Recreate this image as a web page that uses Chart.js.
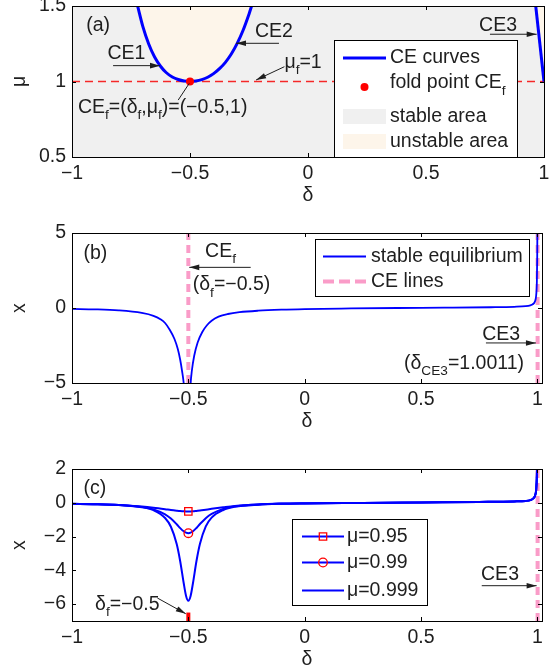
<!DOCTYPE html>
<html>

<head>
  <title>CE curves</title>
  <script src="https://cdn.jsdelivr.net/npm/chart.js"></script>
  <style>
    body { margin: 0; background: #fff; }
    #wrap { position: relative; width: 558px; height: 670px; }
    canvas { position: absolute; left: 0; }
  </style>
</head>

<body>
  <div id="wrap">
    <canvas id="chartA" width="558" height="210" style="top:0px"></canvas>
    <canvas id="chartB" width="558" height="230" style="top:210px"></canvas>
    <canvas id="chartC" width="558" height="230" style="top:440px"></canvas>
  </div>

  <script>
    // ---- data ----
    // (a) CE curves in the (delta, mu) plane
    const ceDelta = [-0.722, -0.70, -0.675, -0.65, -0.625, -0.60, -0.575, -0.55, -0.525, -0.5,
      -0.475, -0.45, -0.425, -0.40, -0.375, -0.35, -0.325, -0.30, -0.275, -0.25, -0.239];
    const ceMu = [1.5, 1.365, 1.248, 1.162, 1.101, 1.058, 1.030, 1.013, 1.003, 1.0,
      1.003, 1.012, 1.028, 1.052, 1.085, 1.127, 1.182, 1.252, 1.339, 1.446, 1.5];
    const ce3Delta = [0.965, 1.0];
    const ce3Mu = [1.5, 1.0];
    const foldDelta = -0.5;
    const foldMu = 1;
    const deltaTicks = [-1, -0.5, 0, 0.5, 1];
    const muTicks = [0.5, 1, 1.5];

    // (b) stable equilibrium at mu = 1
    const eqDelta = [-1, -0.9, -0.8, -0.7, -0.65, -0.62, -0.6, -0.58, -0.56, -0.545, -0.535, -0.527, -0.52, -0.514,
      -0.5, -0.494, -0.49, -0.485, -0.475, -0.46, -0.44, -0.42, -0.4, -0.37, -0.33, -0.28, -0.2, -0.1, 0,
      0.2, 0.4, 0.6, 0.8, 0.9, 0.95, 0.97, 0.98, 0.99, 0.995, 0.998, 0.9995, 1.0005];
    const eqX = [-0.06, -0.09, -0.16, -0.33, -0.52, -0.75, -1.0, -1.45, -2.05, -2.75, -3.45, -4.2, -5.0, -6.3,
      null, -6.3, -5.0, -4.2, -3.2, -2.3, -1.6, -1.15, -0.85, -0.58, -0.4, -0.28, -0.18, -0.11, -0.07,
      -0.03, 0, 0.02, 0.05, 0.08, 0.12, 0.18, 0.25, 0.45, 0.85, 1.8, 3.5, 6];
    const ceLineDeltas = [-0.5, 1.0011];
    const xTicksB = [-5, 0, 5];

    // (c) equilibria for three mu values
    const cDelta = [-1, -0.9, -0.8, -0.7, -0.65, -0.6, -0.575, -0.55, -0.535, -0.52,
      -0.51, -0.5, -0.49, -0.48, -0.465, -0.45, -0.425, -0.4, -0.35, -0.3,
      -0.2, -0.1, 0, 0.25, 0.5, 0.75, 0.9, 0.95, 0.97, 0.98,
      0.99, 0.995, 0.998, 1.0];
    const x095 = [-0.07, -0.09, -0.13, -0.22, -0.29, -0.38, -0.43, -0.47, -0.49, -0.5,
      -0.51, -0.51, -0.51, -0.5, -0.48, -0.46, -0.41, -0.36, -0.27, -0.19,
      -0.1, -0.06, -0.04, -0.01, 0.02, 0.05, 0.08, 0.11, 0.16, 0.23,
      0.42, 0.78, 1.6, 3.0];
    const x099 = [-0.06, -0.08, -0.13, -0.25, -0.39, -0.68, -0.93, -1.27, -1.5, -1.69,
      -1.77, -1.8, -1.77, -1.69, -1.49, -1.26, -0.91, -0.66, -0.36, -0.21,
      -0.1, -0.05, -0.03, -0.01, 0.02, 0.05, 0.08, 0.11, 0.16, 0.23,
      0.42, 0.78, 1.6, 3.0];
    const x0999 = [-0.06, -0.08, -0.13, -0.26, -0.44, -0.9, -1.42, -2.44, -3.46, -4.75,
      -5.5, -5.8, -5.5, -4.75, -3.45, -2.43, -1.4, -0.88, -0.43, -0.24,
      -0.11, -0.06, -0.04, -0.01, 0.02, 0.05, 0.08, 0.11, 0.16, 0.23,
      0.42, 0.78, 1.6, 3.0];
    const foldBar = [-7, -6.5];
    const xTicksC = [-6, -4, -2, 0, 2];

    // ---- styling ----
    const FONT = '"Liberation Sans", Arial, Helvetica, sans-serif';
    const FS = 19.5;
    const INK = '#1e1e1e';
    const BLUE = '#0000ff';
    const RED = '#ff0000';
    const PINK = '#fa9cc8';
    const STABLE = '#f0f0f0';
    const UNSTABLE = '#fdf5ea';
    const TL = 4;

    Chart.defaults.font.family = FONT;
    Chart.defaults.font.size = FS;
    Chart.defaults.color = INK;

    const pts = (xs, ys) => xs.map((v, i) => ({ x: v, y: ys[i] }));
    const fmt = v => String(v).replace('-', '\u2212');

    function drawRich(ctx, str, x, y) {
      const parts = str.split(/(_\{[^}]*\})/).filter(Boolean);
      let cx = x;
      ctx.textAlign = 'left';
      ctx.textBaseline = 'middle';
      ctx.fillStyle = INK;
      for (const p of parts) {
        const sub = p.startsWith('_{');
        const s = sub ? p.slice(2, -1) : p;
        ctx.font = (sub ? FS * 0.7 : FS) + 'px ' + FONT;
        ctx.fillText(s, cx, sub ? y + FS * 0.4 : y);
        cx += ctx.measureText(s).width;
      }
    }

    function arrow(ctx, x1, y1, x2, y2, head) {
      ctx.strokeStyle = INK;
      ctx.fillStyle = INK;
      ctx.lineWidth = 1;
      ctx.beginPath();
      ctx.moveTo(x1, y1);
      ctx.lineTo(x2, y2);
      ctx.stroke();
      if (!head) return;
      const ang = Math.atan2(y2 - y1, x2 - x1), L = 10, W = 2.8;
      const c = Math.cos(ang), s = Math.sin(ang);
      ctx.beginPath();
      ctx.moveTo(x2, y2);
      ctx.lineTo(x2 - L * c + W * s, y2 - L * s - W * c);
      ctx.lineTo(x2 - L * c - W * s, y2 - L * s + W * c);
      ctx.closePath();
      ctx.fill();
    }

    function marker(ctx, style, x, y) {
      ctx.strokeStyle = RED;
      ctx.lineWidth = 1.3;
      ctx.beginPath();
      if (style === 'rect') ctx.rect(x - 3.7, y - 3.7, 7.4, 7.4);
      else ctx.arc(x, y, 4.3, 0, Math.PI * 2);
      ctx.stroke();
    }

    function drawLegend(ctx, L) {
      const [l, t, r, b] = L.box;
      const [s1, s2] = L.sample;
      ctx.fillStyle = '#fff';
      ctx.fillRect(l, t, r - l, b - t);
      ctx.strokeStyle = '#000';
      ctx.lineWidth = 1;
      ctx.strokeRect(l + 0.5, t + 0.5, r - l, b - t);
      for (const it of L.items) {
        const cy = it.y;
        if (it.kind === 'line') {
          ctx.save();
          ctx.setLineDash(it.dash || []);
          ctx.strokeStyle = it.color;
          ctx.lineWidth = it.width;
          ctx.beginPath();
          ctx.moveTo(s1, cy);
          ctx.lineTo(s2, cy);
          ctx.stroke();
          ctx.restore();
          if (it.marker) marker(ctx, it.marker, (s1 + s2) / 2, cy);
        } else if (it.kind === 'dot') {
          ctx.fillStyle = it.color;
          ctx.beginPath();
          ctx.arc((s1 + s2) / 2, cy + 4, 4, 0, Math.PI * 2);
          ctx.fill();
        } else if (it.kind === 'patch') {
          ctx.fillStyle = it.color;
          ctx.fillRect(s1, cy - 8, s2 - s1, 15);
        }
        drawRich(ctx, it.label, L.textX, cy);
      }
    }

    // annotations per panel, positions in data units
    const decor = {
      chartA: {
        bg: STABLE,
        notes: [
          { text: '(a)', at: [-0.94, 1.37] },
          { text: 'CE1', at: [-0.85, 1.182] },
          { text: 'CE2', at: [-0.225, 1.328] },
          { text: 'μ_{f}=1', at: [-0.1, 1.123] },
          { text: 'CE_{f}=(δ_{f},μ_{f})=(\u22120.5,1)', at: [-0.975, 0.825] },
          { text: 'CE3', at: [0.725, 1.37] }
        ],
        arrows: [
          { from: [-0.826, 1.105], to: [-0.627, 1.105], head: true },
          { from: [-0.123, 1.253], to: [-0.305, 1.253], head: true },
          { from: [-0.1, 1.098], to: [-0.22, 1.01], head: true },
          { from: [-0.503, 0.988], to: [-0.55, 0.877], head: false },
          { from: [0.771, 1.313], to: [0.969, 1.313], head: true }
        ],
        legend: {
          box: [334, 40, 517, 157], sample: [343, 386], textX: 390,
          items: [
            { label: 'CE curves', kind: 'line', color: BLUE, width: 3, y: 58 },
            { label: 'fold point CE_{f}', kind: 'dot', color: RED, y: 83 },
            { label: 'stable area', kind: 'patch', color: STABLE, y: 117 },
            { label: 'unstable area', kind: 'patch', color: UNSTABLE, y: 142 }
          ]
        }
      },
      chartB: {
        notes: [
          { text: '(b)', at: [-0.951, 3.65] },
          { text: 'CE_{f}', at: [-0.428, 3.75] },
          { text: '(δ_{f}=\u22120.5)', at: [-0.481, 1.53] },
          { text: 'CE3', at: [0.763, -1.8] },
          { text: '(δ_{CE3}=1.0011)', at: [0.427, -3.69] }
        ],
        arrows: [
          { from: [-0.232, 2.71], to: [-0.496, 2.71], head: true },
          { from: [0.779, -2.33], to: [0.994, -2.33], head: true }
        ],
        legend: {
          box: [315, 29, 529, 86], sample: [323, 366], textX: 371,
          items: [
            { label: 'stable equilibrium', kind: 'line', color: BLUE, width: 1.8, y: 46.5 },
            { label: 'CE lines', kind: 'line', color: PINK, width: 4, dash: [11, 5], y: 71.5 }
          ]
        }
      },
      chartC: {
        notes: [
          { text: '(c)', at: [-0.951, 0.86] },
          { text: 'δ_{f}=\u22120.5', at: [-0.901, -6.04] },
          { text: 'CE3', at: [0.758, -4.23] }
        ],
        arrows: [
          { from: [-0.633, -5.64], to: [-0.511, -6.57], head: true },
          { from: [0.761, -4.91], to: [0.997, -4.91], head: true }
        ],
        legend: {
          box: [292, 79, 427, 165], sample: [302, 344], textX: 347,
          items: [
            { label: 'μ=0.95', kind: 'line', color: BLUE, width: 2, marker: 'rect', y: 96.5 },
            { label: 'μ=0.99', kind: 'line', color: BLUE, width: 2, marker: 'circle', y: 122.5 },
            { label: 'μ=0.999', kind: 'line', color: BLUE, width: 2, y: 150.5 }
          ]
        }
      }
    };

    const figPlugin = {
      id: 'fig',
      beforeDraw(chart) {
        const d = decor[chart.canvas.id];
        if (!d.bg) return;
        const a = chart.chartArea, ctx = chart.ctx;
        ctx.save();
        ctx.fillStyle = d.bg;
        ctx.fillRect(a.left, a.top, a.right - a.left, a.bottom - a.top);
        ctx.restore();
      },
      afterDraw(chart) {
        const d = decor[chart.canvas.id];
        const { ctx, chartArea: a, scales: { x, y } } = chart;
        ctx.save();
        // box and inward ticks
        ctx.strokeStyle = '#000';
        ctx.lineWidth = 1;
        ctx.strokeRect(Math.round(a.left) + 0.5, Math.round(a.top) + 0.5,
          Math.round(a.right - a.left), Math.round(a.bottom - a.top));
        ctx.beginPath();
        for (const t of x.ticks) {
          const px = Math.round(x.getPixelForValue(t.value)) + 0.5;
          ctx.moveTo(px, a.bottom); ctx.lineTo(px, a.bottom - TL);
          ctx.moveTo(px, a.top); ctx.lineTo(px, a.top + TL);
        }
        for (const t of y.ticks) {
          const py = Math.round(y.getPixelForValue(t.value)) + 0.5;
          ctx.moveTo(a.left, py); ctx.lineTo(a.left + TL, py);
          ctx.moveTo(a.right, py); ctx.lineTo(a.right - TL, py);
        }
        ctx.stroke();
        for (const ar of d.arrows) {
          arrow(ctx, x.getPixelForValue(ar.from[0]), y.getPixelForValue(ar.from[1]),
            x.getPixelForValue(ar.to[0]), y.getPixelForValue(ar.to[1]), ar.head);
        }
        for (const n of d.notes) {
          drawRich(ctx, n.text, x.getPixelForValue(n.at[0]), y.getPixelForValue(n.at[1]));
        }
        drawLegend(ctx, d.legend);
        ctx.restore();
      }
    };

    function axes(o) {
      return {
        x: {
          type: 'linear', min: o.xmin, max: o.xmax,
          afterBuildTicks: s => { s.ticks = deltaTicks.map(v => ({ value: v })); },
          afterFit: s => { s.height = o.xh; s.paddingLeft = 0; s.paddingRight = 0; },
          grid: { display: false, drawTicks: false },
          border: { display: false },
          ticks: { padding: 5, autoSkip: false, maxRotation: 0, callback: fmt },
          title: { display: true, text: 'δ', padding: { top: 0, bottom: o.tb } }
        },
        y: {
          type: 'linear', min: o.ymin, max: o.ymax,
          afterBuildTicks: s => { s.ticks = o.yticks.map(v => ({ value: v })); },
          afterFit: s => { s.width = 72; s.paddingTop = 0; s.paddingBottom = 0; },
          grid: { display: false, drawTicks: false },
          border: { display: false },
          ticks: { padding: 6, autoSkip: false, callback: fmt },
          title: { display: true, text: o.ylabel, padding: { top: 8.3, bottom: 0 } }
        }
      };
    }

    function baseOptions(pad, scales) {
      return {
        responsive: false,
        animation: false,
        devicePixelRatio: 1,
        layout: { padding: pad },
        plugins: { legend: { display: false }, tooltip: { enabled: false } },
        elements: { point: { radius: 0 } },
        scales: scales
      };
    }

    // (a)
    new Chart(document.getElementById('chartA'), {
      type: 'line',
      data: {
        datasets: [
          { data: [{ x: foldDelta, y: foldMu }], showLine: false, pointRadius: 4, pointBackgroundColor: RED, pointBorderWidth: 0 },
          { data: pts(ceDelta, ceMu), borderColor: BLUE, borderWidth: 3, fill: 'end', backgroundColor: UNSTABLE, tension: 0.3 },
          { data: pts(ce3Delta, ce3Mu), borderColor: BLUE, borderWidth: 3, fill: 'end', backgroundColor: UNSTABLE },
          {
            data: [{ x: deltaTicks[0], y: foldMu }, { x: deltaTicks[deltaTicks.length - 1], y: foldMu }],
            borderColor: 'rgb(245,40,40)', borderWidth: 1.5, borderDash: [8, 5]
          }
        ]
      },
      options: baseOptions({ left: 0, right: 14, top: 6, bottom: 0 },
        axes({ xmin: -1, xmax: 1, xh: 53, tb: 2.3, ymin: 0.5, ymax: 1.5, yticks: muTicks, ylabel: 'μ' })),
      plugins: [figPlugin]
    });

    // (b)
    new Chart(document.getElementById('chartB'), {
      type: 'line',
      data: {
        datasets: [
          { data: pts(eqDelta, eqX), borderColor: BLUE, borderWidth: 1.8, cubicInterpolationMode: 'monotone' },
          ...ceLineDeltas.map(d => ({
            data: [{ x: d, y: xTicksB[0] }, { x: d, y: xTicksB[xTicksB.length - 1] }],
            borderColor: PINK, borderWidth: 4, borderDash: [8, 5]
          }))
        ]
      },
      options: baseOptions({ left: 0, right: 16, top: 23, bottom: 0 },
        axes({ xmin: -1, xmax: 1.02, xh: 57, tb: 6.6, ymin: -5, ymax: 5, yticks: xTicksB, ylabel: 'x' })),
      plugins: [figPlugin]
    });

    // (c)
    const markAt = cDelta.indexOf(foldDelta);
    new Chart(document.getElementById('chartC'), {
      type: 'line',
      data: {
        datasets: [
          {
            data: pts(cDelta, x095), borderColor: BLUE, borderWidth: 2, cubicInterpolationMode: 'monotone',
            pointStyle: 'rect', pointRadius: c => c.dataIndex === markAt ? 5.2 : 0,
            pointBorderColor: RED, pointBackgroundColor: 'rgba(0,0,0,0)', pointBorderWidth: 1.3
          },
          {
            data: pts(cDelta, x099), borderColor: BLUE, borderWidth: 2, cubicInterpolationMode: 'monotone',
            pointStyle: 'circle', pointRadius: c => c.dataIndex === markAt ? 4.3 : 0,
            pointBorderColor: RED, pointBackgroundColor: 'rgba(0,0,0,0)', pointBorderWidth: 1.3
          },
          { data: pts(cDelta, x0999), borderColor: BLUE, borderWidth: 2, cubicInterpolationMode: 'monotone' },
          { data: foldBar.map(v => ({ x: foldDelta, y: v })), borderColor: RED, borderWidth: 4 },
          {
            data: [{ x: ceLineDeltas[1], y: -7 }, { x: ceLineDeltas[1], y: xTicksC[xTicksC.length - 1] }],
            borderColor: PINK, borderWidth: 4, borderDash: [8, 5]
          }
        ]
      },
      options: baseOptions({ left: 0, right: 16, top: 29, bottom: 0 },
        axes({ xmin: -1, xmax: 1.02, xh: 49, tb: -1.7, ymin: -7, ymax: 2, yticks: xTicksC, ylabel: 'x' })),
      plugins: [figPlugin]
    });
  </script>
</body>

</html>
